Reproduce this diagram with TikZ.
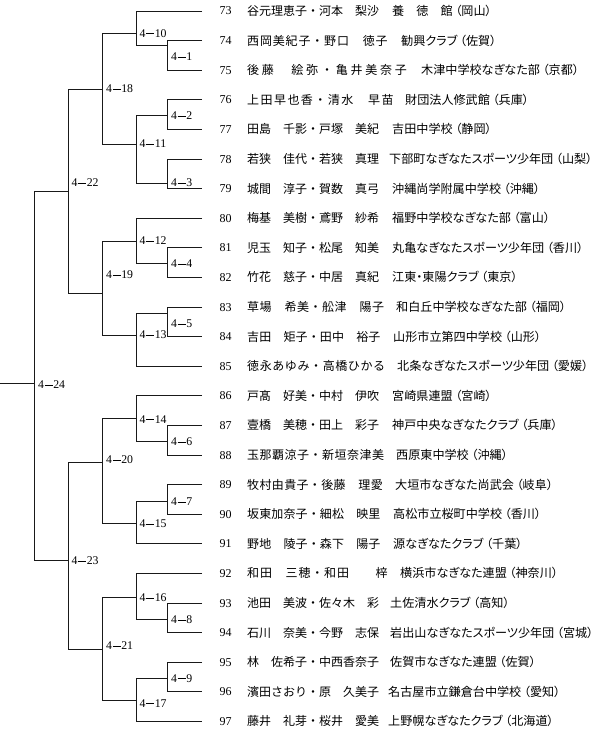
\documentclass[tikz,border=0pt]{standalone}
\usepackage{fontspec}
\setmainfont{Liberation Serif}
\newfontfamily\jp[RawFeature=+palt]{Noto Sans CJK JP}
\newfontfamily\jpn{Noto Sans CJK JP}
\newcommand\mlab[1]{4\kern0.6pt\rule[0.27em]{8pt}{0.075em}\kern0.6pt#1}
\newcommand\brk[3]{\draw[ln] (#2) -- (#2 -| #1) -- (#3 -| #1) -- (#3);}
\begin{document}
\begin{tikzpicture}[x=1pt,y=-1pt,
  ln/.style={line width=0.85pt,black!90},
  num/.style={anchor=west,inner sep=0pt,font=\fontsize{12}{12}\selectfont,text height=8pt,text depth=0pt},
  lab/.style={anchor=west,inner sep=0pt,font=\fontsize{11.8}{11.8}\selectfont,text height=7.8pt,text depth=0pt},
  nm/.style={anchor=west,inner sep=0pt,font=\jpn\fontsize{12}{12}\selectfont,text height=10.5pt,text depth=1.5pt},
  cl/.style={anchor=west,inner sep=0pt,font=\jp\fontsize{12.1}{12.1}\selectfont,text height=10.5pt,text depth=1.5pt}]
\useasboundingbox (0,0) rectangle (600,733);
\foreach \k/\cx/\ls/\nm/\cl [count=\i from 0] in {
73/392/0/{谷元理恵子・河本　梨沙}/{養　徳　館 （岡山）},
74/401/7/{西岡美紀子・野口　徳子}/{勧興クラブ （佐賀）},
75/421/23/{後藤　絵弥・亀井美奈子}/{木津中学校なぎなた部 （京都）},
76/405/12/{上田早也香・清水　早苗}/{財団法人修武館 （兵庫）},
77/392/0/{田島　千影・戸塚　美紀}/{吉田中学校 （静岡）},
78/389/0/{若狭　佳代・若狭　真理}/{下部町なぎなたスポーツ少年団 （山梨）},
79/392/0/{城間　淳子・賀数　真弓}/{沖縄尚学附属中学校 （沖縄）},
80/392/0/{梅基　美樹・鳶野　紗希}/{福野中学校なぎなた部 （富山）},
81/392/0/{児玉　知子・松尾　知美}/{丸亀なぎなたスポーツ少年団 （香川）},
82/392/0/{竹花　慈子・中居　真紀}/{江東・東陽クラブ （東京）},
83/396/4/{草場　希美・舩津　陽子}/{和白丘中学校なぎなた部 （福岡）},
84/393/1/{吉田　矩子・田中　裕子}/{山形市立第四中学校 （山形）},
85/397/5/{徳永あゆみ・高橋ひかる}/{北条なぎなたスポーツ少年団 （愛媛）},
86/392/0/{戸髙　好美・中村　伊吹}/{宮崎県連盟 （宮崎）},
87/392/0/{壹橋　美穂・田上　彩子}/{神戸中央なぎなたクラブ （兵庫）},
88/396/4/{玉那覇涼子・新垣奈津美}/{西原東中学校 （沖縄）},
89/395/3/{牧村由貴子・後藤　理愛}/{大垣市なぎなた尚武会 （岐阜）},
90/393/1/{坂東加奈子・細松　映里}/{高松市立桜町中学校 （香川）},
91/393/1/{野地　陵子・森下　陽子}/{源なぎなたクラブ （千葉）},
92/400/7/{和田　三穂・和田　　梓}/{横浜市なぎなた連盟 （神奈川）},
93/390/0/{池田　美波・佐々木　彩}/{土佐清水クラブ （高知）},
94/390/0/{石川　奈美・今野　志保}/{岩出山なぎなたスポーツ少年団 （宮城）},
95/390/0/{林　佐希子・中西香奈子}/{佐賀市なぎなた連盟 （佐賀）},
96/388/0/{濱田さおり・原　久美子}/{名古屋市立鎌倉台中学校 （愛知）},
97/388/0/{藤井　礼芽・桜井　愛美}/{上野幌なぎなたクラブ （北海道）}}{
  \pgfmathsetmacro\yy{11+29.6*\i}
  \coordinate (e\k) at (202,\yy);
  \node[num] (n\k) at (219.5,\yy) {\k};
  \node[nm] (p\k) at (247,\yy) {\addfontfeature{LetterSpace=\ls}\nm};
  \node[cl] (c\k) at (\cx,\yy) {\cl};
}
\coordinate (m1) at (167.5,45);
\coordinate (m2) at (167.5,115);
\coordinate (m3) at (167.5,183);
\coordinate (m4) at (167.5,263);
\coordinate (m5) at (167.5,313);
\coordinate (m6) at (167.5,441);
\coordinate (m7) at (167.5,501);
\coordinate (m8) at (167.5,619);
\coordinate (m9) at (167.5,678);
\coordinate (m10) at (136.7,33);
\coordinate (m11) at (136.7,144);
\coordinate (m12) at (136.7,241);
\coordinate (m13) at (136.7,335);
\coordinate (m14) at (136.7,418);
\coordinate (m15) at (136.7,523);
\coordinate (m16) at (136.7,597.7);
\coordinate (m17) at (136.7,700);
\coordinate (m18) at (102.7,89);
\coordinate (m19) at (102.7,293);
\coordinate (m20) at (102.7,462);
\coordinate (m21) at (102.7,649);
\coordinate (m22) at (68.3,191);
\coordinate (m23) at (68.3,560);
\coordinate (m24) at (34.3,383);
\coordinate (root) at (0,383);
\brk{m1}{e74}{e75}
\brk{m2}{e76}{e77}
\brk{m3}{e78}{e79}
\brk{m4}{e81}{e82}
\brk{m5}{e83}{e84}
\brk{m6}{e87}{e88}
\brk{m7}{e89}{e90}
\brk{m8}{e93}{e94}
\brk{m9}{e95}{e96}
\brk{m10}{e73}{m1}
\brk{m11}{m2}{m3}
\brk{m12}{e80}{m4}
\brk{m13}{m5}{e85}
\brk{m14}{e86}{m6}
\brk{m15}{m7}{e91}
\brk{m16}{e92}{m8}
\brk{m17}{m9}{e97}
\brk{m18}{m10}{m11}
\brk{m19}{m12}{m13}
\brk{m20}{m14}{m15}
\brk{m21}{m16}{m17}
\brk{m22}{m18}{m19}
\brk{m23}{m20}{m21}
\brk{m24}{m22}{m23}
\draw[ln] (root) -- (m24);
\node[lab] (t1) at (171,56.7) {\mlab{1}};
\node[lab] (t2) at (171,116) {\mlab{2}};
\node[lab] (t3) at (171,183) {\mlab{3}};
\node[lab] (t4) at (171,264) {\mlab{4}};
\node[lab] (t5) at (171,324) {\mlab{5}};
\node[lab] (t6) at (171,441.7) {\mlab{6}};
\node[lab] (t7) at (171,501.7) {\mlab{7}};
\node[lab] (t8) at (171,620) {\mlab{8}};
\node[lab] (t9) at (171,678.3) {\mlab{9}};
\node[lab] (t10) at (139.5,33.3) {\mlab{10}};
\node[lab] (t11) at (139.5,144) {\mlab{11}};
\node[lab] (t12) at (139.5,241) {\mlab{12}};
\node[lab] (t13) at (139.5,335) {\mlab{13}};
\node[lab] (t14) at (139.5,419.3) {\mlab{14}};
\node[lab] (t15) at (139.5,524) {\mlab{15}};
\node[lab] (t16) at (139.5,597.7) {\mlab{16}};
\node[lab] (t17) at (139.5,703.3) {\mlab{17}};
\node[lab] (t18) at (106,89) {\mlab{18}};
\node[lab] (t19) at (106,275) {\mlab{19}};
\node[lab] (t20) at (106,460) {\mlab{20}};
\node[lab] (t21) at (106,646) {\mlab{21}};
\node[lab] (t22) at (71.5,182.7) {\mlab{22}};
\node[lab] (t23) at (71.5,561) {\mlab{23}};
\node[lab] (t24) at (38,385) {\mlab{24}};
\end{tikzpicture}
\end{document}
